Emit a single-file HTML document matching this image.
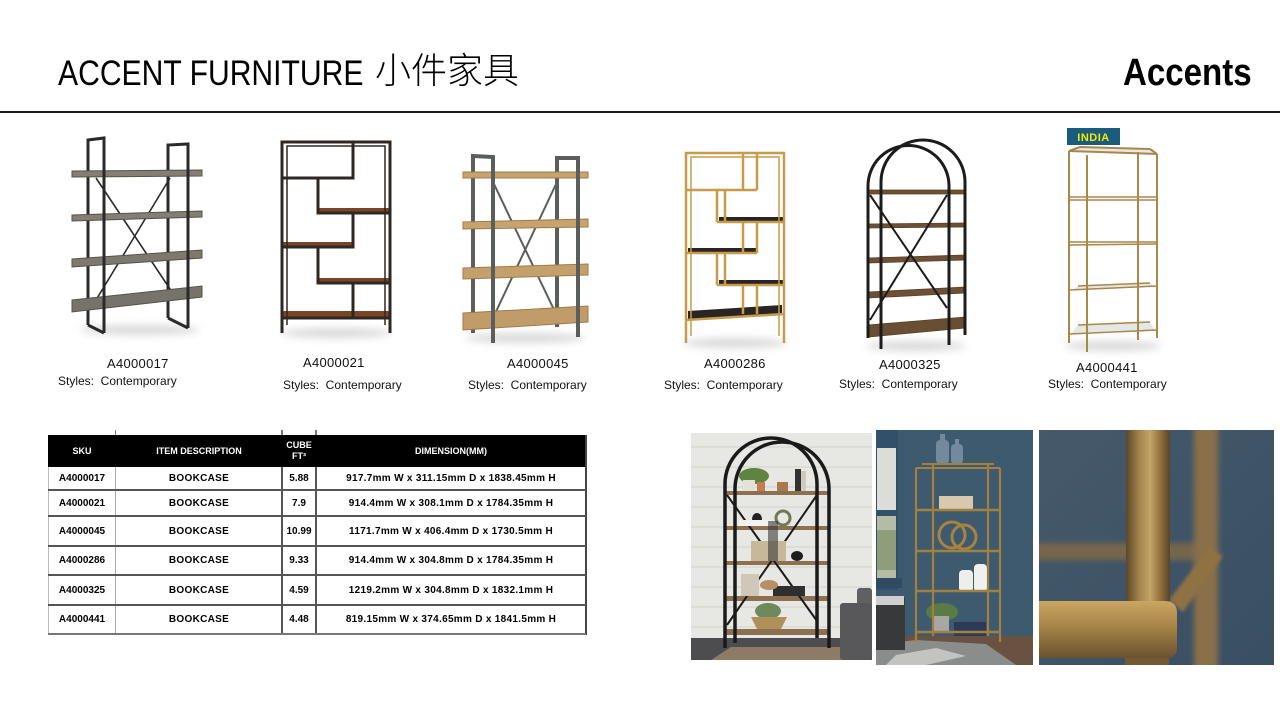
<!DOCTYPE html>
<html><head><meta charset="utf-8">
<style>
html,body{margin:0;padding:0;background:#fff;}
body{width:1280px;height:720px;position:relative;overflow:hidden;font-family:"Liberation Sans",Arial,sans-serif;}
.a{position:absolute;white-space:pre;}
.lbl{position:absolute;font-size:13px;line-height:13px;color:#111;letter-spacing:0.3px;white-space:pre;}
.sty{position:absolute;font-size:12px;line-height:12px;color:#111;white-space:pre;}
.c{position:absolute;display:flex;align-items:center;justify-content:center;text-align:center;font-weight:bold;font-size:10px;color:#000;white-space:pre;}
.h{color:#fff;font-size:9px;line-height:11px;}
.ln{position:absolute;}
</style></head><body>

<div class="a" style="left:58px;top:56px;font-size:35px;line-height:35px;color:#000;transform:scaleX(0.86);transform-origin:0 0;">ACCENT FURNITURE</div>
<div class="a" style="left:375px;top:53px;font-size:36px;line-height:36px;color:#000;font-weight:300;font-family:'Liberation Sans','Noto Sans CJK SC',sans-serif;">小件家具</div>
<div class="a" style="left:1123px;top:54px;font-size:38px;line-height:38px;font-weight:bold;color:#000;transform:scaleX(0.87);transform-origin:0 0;">Accents</div>
<div class="ln" style="left:0;top:111px;width:1280px;height:2px;background:#1a1a1a;"></div>

<svg width="1280" height="720" style="position:absolute;left:0;top:0" xmlns="http://www.w3.org/2000/svg">
<defs>
<filter id="b1" x="-50%" y="-50%" width="200%" height="200%"><feGaussianBlur stdDeviation="3"/></filter>
<filter id="b2" x="-50%" y="-50%" width="200%" height="200%"><feGaussianBlur stdDeviation="1.5"/></filter>
<filter id="b4" x="-50%" y="-50%" width="200%" height="200%"><feGaussianBlur stdDeviation="4"/></filter>
<linearGradient id="gv" x1="0" y1="0" x2="1" y2="0">
<stop offset="0" stop-color="#5a4628"/><stop offset="0.3" stop-color="#a4844c"/><stop offset="0.55" stop-color="#c4a466"/><stop offset="0.8" stop-color="#8c6c3a"/><stop offset="1" stop-color="#56432a"/></linearGradient>
<linearGradient id="gh" x1="0" y1="0" x2="0" y2="1">
<stop offset="0" stop-color="#caa662"/><stop offset="0.45" stop-color="#a68447"/><stop offset="1" stop-color="#6a5230"/></linearGradient>
<linearGradient id="p3bg" x1="0" y1="0" x2="1" y2="1">
<stop offset="0" stop-color="#45596a"/><stop offset="1" stop-color="#394f62"/></linearGradient>
</defs>

<!-- shadows -->
<g fill="#d9d9d9" filter="url(#b4)">
<ellipse cx="140" cy="330" rx="60" ry="5"/>
<ellipse cx="336" cy="333" rx="55" ry="5"/>
<ellipse cx="525" cy="338" rx="60" ry="5"/>
<ellipse cx="735" cy="343" rx="52" ry="5"/>
<ellipse cx="916" cy="346" rx="50" ry="5"/>
<ellipse cx="1113" cy="346" rx="48" ry="5"/>
</g>

<!-- Product 1: A4000017 -->
<g stroke="#2a2a2a" stroke-width="3" fill="none">
<path d="M88,325 L88,140 L104,138 L104,333 M88,325 L104,333"/>
<path d="M168,318 L168,145 L188,144 L188,328 M168,318 L188,328"/>
<path d="M96,178 L172,292 M170,178 L96,300" stroke-width="1.6"/>
</g>
<g stroke="#55524b" stroke-width="1">
<polygon points="72,171 202,170 202,176 72,177" fill="#837f74"/>
<polygon points="72,215 202,211 202,217 72,221" fill="#837f74"/>
<polygon points="72,259 202,250 202,258 72,267" fill="#7d796e"/>
<polygon points="72,300 202,286 202,297 72,312" fill="#76736a"/>
</g>
<g stroke="#2a2a2a" stroke-width="3"><path d="M104,138 L104,333 M188,144 L188,328"/></g>

<!-- Product 2: A4000021 -->
<g fill="#7a4526">
<rect x="318" y="208" width="72" height="5"/>
<rect x="282" y="242" width="71" height="5"/>
<rect x="318" y="278" width="72" height="5"/>
<rect x="282" y="311" width="108" height="7"/>
</g>
<g stroke="#2e2723" stroke-width="3" fill="none">
<path d="M282,333 L282,142 L390,142 L390,333"/>
<path d="M287,325 L287,146 L385,146 L385,325" stroke-width="1.5"/>
<path d="M353,142 L353,178 L282,178 M318,178 L318,213 L390,213 M353,213 L353,247 L282,247 M318,247 L318,283 L390,283 M353,283 L353,317 M282,318 L390,318"/>
</g>

<!-- Product 3: A4000045 -->
<g stroke="#5a5f5c" stroke-width="4" fill="none">
<path d="M473,333 L473,156 L493,157 L493,343"/>
<path d="M557,327 L557,158 L578,158 L578,337"/>
<path d="M493,182 L557,316 M557,182 L493,318" stroke-width="2"/>
</g>
<g stroke="#a27a48" stroke-width="1">
<polygon points="463,172 588,172 588,178 463,178" fill="#c7a370"/>
<polygon points="463,222 588,219 588,227 463,229" fill="#c7a370"/>
<polygon points="463,268 588,264 588,275 463,279" fill="#c4a06c"/>
<polygon points="463,313 588,306 588,322 463,330" fill="#c09c68"/>
</g>
<g stroke="#5a5f5c" stroke-width="4"><path d="M493,157 L493,343 M578,158 L578,337"/></g>

<!-- Product 4: A4000286 -->
<g fill="#2a2422">
<rect x="719" y="217" width="65" height="5"/>
<rect x="688" y="248" width="69" height="5"/>
<rect x="719" y="280" width="65" height="5"/>
<polygon points="688,311 782,305 782,314 688,320"/>
</g>
<g stroke="#c69c4c" stroke-width="2.5" fill="none">
<path d="M686,343 L686,153 L784,153 L784,343"/>
<path d="M691,336 L691,157 L779,157 L779,336" stroke-width="1.5"/>
<path d="M743,153 L743,190 M757,153 L757,190 M686,190 L757,190 M717,190 L717,222 M725,190 L725,222 M717,222 L784,222 M743,222 L743,253 M757,222 L757,253 M686,253 L757,253 M717,253 L717,285 M725,253 L725,285 M717,285 L784,285 M743,285 L743,314 M757,285 L757,314 M686,320 L784,314"/>
</g>

<!-- Product 5: A4000325 -->
<g stroke="#5a4028" stroke-width="0.8">
<polygon points="868,190 965,190 965,194 868,194" fill="#6d5035"/>
<polygon points="868,224 965,223 965,227 868,228" fill="#6d5035"/>
<polygon points="868,258 965,255 965,260 868,263" fill="#6d5035"/>
<polygon points="868,292 965,287 965,293 868,298" fill="#6d5035"/>
<polygon points="868,325 965,317 965,328 868,337" fill="#6a4e34"/>
</g>
<g stroke="#1c1c1c" stroke-width="3" fill="none">
<path d="M868,338 L868,186 A40.5,40.5 0 0 1 949,186 L949,345"/>
<path d="M881,349 L881,182 A42,42 0 0 1 965,182 L965,335"/>
<path d="M870,195 L947,308 M947,195 L870,320" stroke-width="2"/>
</g>

<!-- Product 6: A4000441 -->
<g>
<polygon points="1072,333 1155,330 1150,322 1078,325" fill="#e4e8e5"/>
<polygon points="1072,290 1155,286 1150,283 1078,286" fill="#e4e8e5"/>
<polygon points="1072,152 1155,154 1150,149 1080,147" fill="#e6e9e6"/>
</g>
<g stroke="#a9864a" stroke-width="2" fill="none">
<path d="M1069,343 L1069,151 M1087,352 L1087,155 M1138,340 L1138,152 M1157,338 L1157,154"/>
<path d="M1069,151 L1157,154 M1080,147 L1150,149 M1069,151 L1080,147 M1157,154 L1150,149"/>
<path d="M1069,197 L1157,197 M1069,200 L1157,200" stroke-width="1.5"/>
<path d="M1069,242 L1157,242 M1069,245 L1157,244" stroke-width="1.5"/>
<path d="M1069,290 L1157,286 M1078,286 L1150,283" stroke-width="1.5"/>
<path d="M1069,334 L1157,330 M1078,325 L1150,322" stroke-width="1.5"/>
</g>
<rect x="1067" y="128" width="53" height="17" fill="#1b5c7e"/>
<text x="1093.5" y="141" text-anchor="middle" font-family="Liberation Sans, Arial, sans-serif" font-weight="bold" font-size="11" fill="#f2ea00" letter-spacing="0.5">INDIA</text>

<!-- Photo 1 -->
<svg x="691" y="433" width="181" height="227" viewBox="0 0 181 227">
<rect width="181" height="227" fill="#e7e7e3"/>
<g stroke="#d3d3ce" stroke-width="1">
<path d="M0,14 H181 M0,34 H181 M0,54 H181 M0,74 H181 M0,94 H181 M0,114 H181 M0,134 H181 M0,154 H181 M0,174 H181 M0,194 H181"/>
</g>
<rect x="0" y="205" width="181" height="22" fill="#4d4d4f"/>
<polygon points="20,227 40,214 150,214 160,227" fill="#8d7b66"/>
<rect x="166" y="155" width="15" height="72" rx="3" fill="#606062"/>
<rect x="149" y="170" width="32" height="57" rx="3" fill="#58585a"/>
<g fill="#8c7050">
<rect x="34" y="58" width="104" height="4"/>
<rect x="34" y="93" width="104" height="4"/>
<rect x="34" y="128" width="104" height="4"/>
<rect x="34" y="163" width="104" height="5"/>
<rect x="34" y="196" width="104" height="6"/>
</g>
<g stroke="#1a1a1a" stroke-width="3.5" fill="none">
<path d="M34,215 L34,51 A46,46 0 0 1 126,51 L126,205"/>
<path d="M44,210 L44,56 A47,47 0 0 1 138,56 L138,215"/>
<path d="M36,62 L126,188 M126,62 L36,192" stroke-width="2"/>
</g>
<ellipse cx="63" cy="43" rx="15" ry="8" fill="#5f8442"/>
<rect x="52" y="47" width="12" height="11" fill="#e5e0d8"/>
<rect x="66" y="49" width="8" height="9" fill="#c77a4a"/>
<rect x="86" y="49" width="11" height="9" fill="#a77a50"/>
<rect x="104" y="36" width="6" height="22" fill="#333"/>
<rect x="110" y="38" width="5" height="20" fill="#cfcac0"/>
<ellipse cx="66" cy="86" rx="5" ry="6" fill="#222"/>
<circle cx="92" cy="85" r="7" fill="none" stroke="#6d7a55" stroke-width="3"/>
<rect x="48" y="87" width="32" height="6" fill="#f2f2f0"/>
<rect x="60" y="108" width="35" height="20" fill="#c8b89a"/>
<ellipse cx="106" cy="123" rx="6" ry="5" fill="#1e1e1e"/>
<rect x="77" y="88" width="10" height="40" fill="#3a3a3a" opacity="0.6"/>
<rect x="50" y="141" width="18" height="22" fill="#cfc7b8"/>
<rect x="82" y="153" width="32" height="10" fill="#2f2f2f"/>
<ellipse cx="78" cy="152" rx="9" ry="5" fill="#b49064"/>
<ellipse cx="77" cy="178" rx="13" ry="8" fill="#6d8a5a"/>
<path d="M60,184 L96,184 L90,196 L66,196 Z" fill="#b0905a"/>
</svg>

<!-- Photo 2 -->
<svg x="876" y="430" width="157" height="235" viewBox="0 0 157 235">
<rect width="157" height="235" fill="#3d5a6f"/>
<rect x="0" y="0" width="22" height="160" fill="#32506a"/>
<rect x="1" y="18" width="19" height="62" fill="#dcddd6"/>
<rect x="1" y="86" width="19" height="62" fill="#b4bca4"/>
<rect x="1" y="100" width="19" height="40" fill="#8f9e7a"/>
<rect x="0" y="148" width="26" height="10" fill="#2f4a62"/>
<rect x="0" y="206" width="157" height="29" fill="#6a5242"/>
<polygon points="0,215 40,210 110,214 140,235 0,235" fill="#8b8d8d"/>
<polygon points="20,225 60,218 90,226 50,235 10,235" fill="#c3c4c2"/>
<rect x="0" y="168" width="29" height="52" fill="#38393b"/>
<rect x="0" y="166" width="28" height="9" fill="#cfcfcf"/>
<g fill="#7c93a4" opacity="0.85">
<rect x="60" y="10" width="13" height="24" rx="4"/>
<rect x="64" y="4" width="5" height="8"/>
<rect x="75" y="14" width="12" height="20" rx="4"/>
<rect x="79" y="9" width="4" height="6"/>
</g>
<rect x="63" y="66" width="34" height="13" fill="#d7c8ae"/>
<circle cx="76" cy="105" r="13" fill="none" stroke="#a88240" stroke-width="3"/>
<circle cx="88" cy="107" r="12" fill="none" stroke="#a88240" stroke-width="3"/>
<rect x="83" y="140" width="14" height="22" rx="4" fill="#eeeeea"/>
<rect x="98" y="134" width="13" height="28" rx="4" fill="#f0f0ec"/>
<ellipse cx="66" cy="182" rx="16" ry="9" fill="#5c7a45"/>
<rect x="58" y="186" width="15" height="16" fill="#a8a8a2"/>
<rect x="78" y="192" width="32" height="14" fill="#2c3a55"/>
<g stroke="#a3803f" stroke-width="2.2" fill="none">
<path d="M40,212 L40,38 M57,206 L57,34 M112,206 L112,34 M124,212 L124,38"/>
<path d="M40,38 L124,38 M46,34 L118,34" stroke-width="2"/>
<path d="M40,80 L124,80 M40,121 L124,121 M40,161 L124,161 M40,202 L124,202" stroke-width="2.5"/>
</g>
</svg>

<!-- Photo 3 -->
<svg x="1039" y="430" width="235" height="235" viewBox="0 0 235 235">
<rect width="235" height="235" fill="url(#p3bg)"/>
<rect x="-10" y="113" width="170" height="17" fill="#75664b" filter="url(#b1)"/>
<rect x="155" y="-10" width="24" height="255" fill="#8a7048" filter="url(#b1)"/>
<polygon points="130,170 170,118 184,126 144,182" fill="#8f7242" filter="url(#b2)"/>
<rect x="87" y="-5" width="44" height="183" rx="10" fill="url(#gv)"/>
<path d="M-5,171 L126,171 Q138,171 138,183 L138,218 Q138,228 126,228 L-5,228 Z" fill="url(#gh)"/>
<rect x="86" y="228" width="44" height="10" fill="#735a34"/>
</svg>
</svg>

<!-- Product labels -->
<div class="lbl" style="left:107px;top:357px;">A4000017</div>
<div class="sty" style="left:58px;top:375px;">Styles:  Contemporary</div>
<div class="lbl" style="left:303px;top:356px;">A4000021</div>
<div class="sty" style="left:283px;top:379px;">Styles:  Contemporary</div>
<div class="lbl" style="left:507px;top:357px;">A4000045</div>
<div class="sty" style="left:468px;top:379px;">Styles:  Contemporary</div>
<div class="lbl" style="left:704px;top:357px;">A4000286</div>
<div class="sty" style="left:664px;top:379px;">Styles:  Contemporary</div>
<div class="lbl" style="left:879px;top:358px;">A4000325</div>
<div class="sty" style="left:839px;top:378px;">Styles:  Contemporary</div>
<div class="lbl" style="left:1076px;top:361px;">A4000441</div>
<div class="sty" style="left:1048px;top:378px;">Styles:  Contemporary</div>

<!-- Table -->
<div class="ln" style="left:48px;top:435px;width:538px;height:32px;background:#000;"></div>
<div class="ln" style="left:115px;top:430px;width:1px;height:5px;background:#777;"></div>
<div class="ln" style="left:281px;top:430px;width:2px;height:5px;background:#777;"></div>
<div class="ln" style="left:315px;top:430px;width:2px;height:5px;background:#777;"></div>
<div class="ln" style="left:48px;top:467px;width:1px;height:168px;background:#bbb;"></div>
<div class="ln" style="left:115px;top:467px;width:1px;height:168px;background:#aaa;"></div>
<div class="ln" style="left:281px;top:467px;width:2px;height:168px;background:#555;"></div>
<div class="ln" style="left:315px;top:467px;width:2px;height:168px;background:#555;"></div>
<div class="ln" style="left:585px;top:435px;width:2px;height:200px;background:#444;"></div>
<div class="ln" style="left:48px;top:489px;width:538px;height:2px;background:#555;"></div>
<div class="ln" style="left:48px;top:515px;width:538px;height:2px;background:#555;"></div>
<div class="ln" style="left:48px;top:545px;width:538px;height:2px;background:#555;"></div>
<div class="ln" style="left:48px;top:574px;width:538px;height:2px;background:#555;"></div>
<div class="ln" style="left:48px;top:604px;width:538px;height:2px;background:#555;"></div>
<div class="ln" style="left:48px;top:633px;width:538px;height:2px;background:#777;"></div>

<div class="c h" style="left:48px;top:435px;width:68px;height:32px;">SKU</div>
<div class="c h" style="left:116px;top:435px;width:166px;height:32px;">ITEM DESCRIPTION</div>
<div class="c h" style="left:282px;top:435px;width:34px;height:32px;">CUBE<br>FT³</div>
<div class="c h" style="left:316px;top:435px;width:270px;height:32px;">DIMENSION(MM)</div>

<div class="c" style="left:48px;top:467px;width:68px;height:23px;">A4000017</div>
<div class="c" style="left:116px;top:467px;width:166px;height:23px;letter-spacing:0.3px;">BOOKCASE</div>
<div class="c" style="left:282px;top:467px;width:34px;height:23px;">5.88</div>
<div class="c" style="left:316px;top:467px;width:270px;height:23px;letter-spacing:0.3px;">917.7mm W x 311.15mm D x 1838.45mm H</div>

<div class="c" style="left:48px;top:490px;width:68px;height:26px;">A4000021</div>
<div class="c" style="left:116px;top:490px;width:166px;height:26px;letter-spacing:0.3px;">BOOKCASE</div>
<div class="c" style="left:282px;top:490px;width:34px;height:26px;">7.9</div>
<div class="c" style="left:316px;top:490px;width:270px;height:26px;letter-spacing:0.3px;">914.4mm W x 308.1mm D x 1784.35mm H</div>

<div class="c" style="left:48px;top:516px;width:68px;height:30px;">A4000045</div>
<div class="c" style="left:116px;top:516px;width:166px;height:30px;letter-spacing:0.3px;">BOOKCASE</div>
<div class="c" style="left:282px;top:516px;width:34px;height:30px;">10.99</div>
<div class="c" style="left:316px;top:516px;width:270px;height:30px;letter-spacing:0.3px;">1171.7mm W x 406.4mm D x 1730.5mm H</div>

<div class="c" style="left:48px;top:546px;width:68px;height:29px;">A4000286</div>
<div class="c" style="left:116px;top:546px;width:166px;height:29px;letter-spacing:0.3px;">BOOKCASE</div>
<div class="c" style="left:282px;top:546px;width:34px;height:29px;">9.33</div>
<div class="c" style="left:316px;top:546px;width:270px;height:29px;letter-spacing:0.3px;">914.4mm W x 304.8mm D x 1784.35mm H</div>

<div class="c" style="left:48px;top:575px;width:68px;height:30px;">A4000325</div>
<div class="c" style="left:116px;top:575px;width:166px;height:30px;letter-spacing:0.3px;">BOOKCASE</div>
<div class="c" style="left:282px;top:575px;width:34px;height:30px;">4.59</div>
<div class="c" style="left:316px;top:575px;width:270px;height:30px;letter-spacing:0.3px;">1219.2mm W x 304.8mm D x 1832.1mm H</div>

<div class="c" style="left:48px;top:605px;width:68px;height:29px;">A4000441</div>
<div class="c" style="left:116px;top:605px;width:166px;height:29px;letter-spacing:0.3px;">BOOKCASE</div>
<div class="c" style="left:282px;top:605px;width:34px;height:29px;">4.48</div>
<div class="c" style="left:316px;top:605px;width:270px;height:29px;letter-spacing:0.3px;">819.15mm W x 374.65mm D x 1841.5mm H</div>

</body></html>
